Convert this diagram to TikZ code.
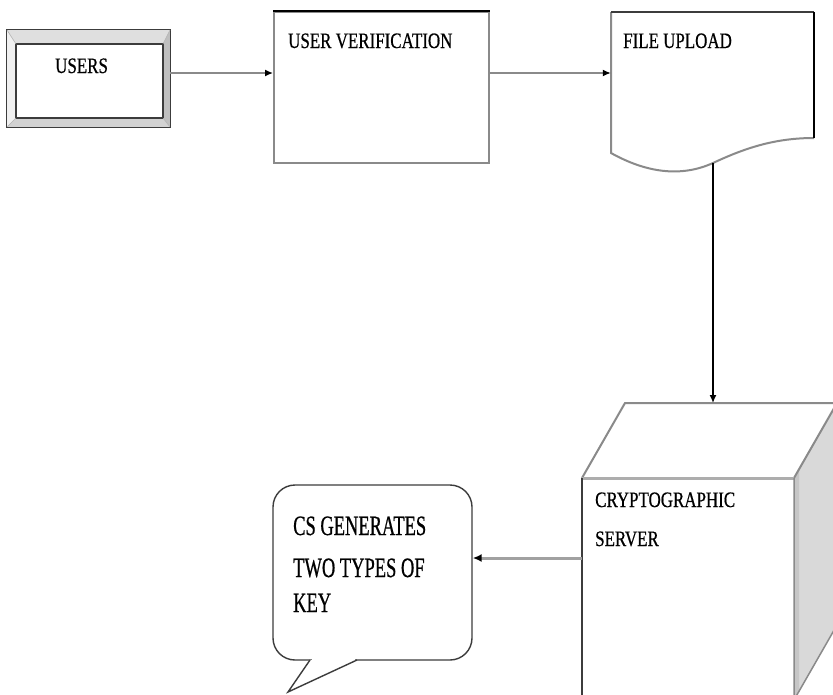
\documentclass[tikz,border=0pt]{standalone}
\usepackage{fontspec}
\usetikzlibrary{arrows.meta}
\newfontfamily\lblfont[FakeStretch=0.77,FakeBold=0.6]{Liberation Serif}
\newfontfamily\notefont[FakeStretch=0.66,FakeBold=0.6]{Liberation Serif}
\definecolor{edgegray}{HTML}{8A8A8A}
\definecolor{darkedge}{HTML}{3C3C3C}
\tikzset{
  lbl/.style={font=\lblfont\fontsize{22}{26}\selectfont, inner sep=0pt, anchor=base west},
  notelbl/.style={font=\notefont\fontsize{28}{34}\selectfont, inner sep=0pt, anchor=base west},
  flow/.style={draw=edgegray, line width=1.4pt, -{Latex[length=8pt,width=7pt,black]}},
  flowdark/.style={draw=black, line width=1.4pt, -{Latex[length=8pt,width=7pt,black]}},
  flowthick/.style={draw=edgegray!80, line width=3pt, -{Latex[length=9pt,width=8pt,black]}},
  plainbox/.style={rectangle, inner sep=0pt}
}
\begin{document}
\begin{tikzpicture}[x=1pt, y=-1pt]
\useasboundingbox (0,0) rectangle (833,694);
\clip (0,0) rectangle (833,694);
\fill[white] (0,0) rectangle (833,694);

% helper rows for the horizontal connectors
\coordinate (toprow) at (0,73);
\coordinate (keyrow) at (0,558);

% ---- USERS: bevelled button ----
\node[plainbox, minimum width=163pt, minimum height=97pt] (users) at (88.5,78.5) {};
\fill[gray!25] (7,30) -- (170,30) -- (163,44) -- (16,44) -- cycle;
\fill[gray!12] (7,30) -- (16,44) -- (16,118) -- (7,127) -- cycle;
\fill[gray!35] (7,127) -- (16,118) -- (163,118) -- (170,127) -- cycle;
\fill[gray!50] (170,30) -- (163,44) -- (163,118) -- (170,127) -- cycle;
\draw[darkedge, line width=1.2pt] (users.south west) rectangle (users.north east);
\draw[darkedge, line width=2pt] (16,44) rectangle (163,118);
\draw[gray!60, line width=0.6pt] (7,30) -- (16,44) (170,30) -- (163,44) (7,127) -- (16,118) (170,127) -- (163,118);
\node[lbl] (userslbl) at (55,73) {USERS};

% ---- USER VERIFICATION ----
\node[plainbox, draw=edgegray, line width=2pt, minimum width=215pt, minimum height=151pt] (uv) at (381.5,87.5) {};
\draw[black, line width=2.2pt] (uv.north west) -- (uv.north east);
\node[lbl] (uvlbl) at (288,48) {USER VERIFICATION};

% ---- FILE UPLOAD (document shape) ----
\node[plainbox, minimum width=203pt, minimum height=141pt] (fu) at (712.5,82.5) {};
\draw[edgegray, line width=2pt] (814,138) .. controls (775,138) and (745,148) .. (713,163)
  .. controls (680,178) and (645,172) .. (611,153) -- (611,12);
\draw[darkedge, line width=2pt] (611,12) -- (814,12);
\draw[black, line width=2pt] (814,12) -- (814,138);
\coordinate (fubottom) at (713,163);
\node[lbl] (fulbl) at (623,48) {FILE UPLOAD};

% ---- CRYPTOGRAPHIC SERVER (cube) ----
\node[plainbox, minimum width=212pt, minimum height=222pt] (cs) at (688,589) {};
\fill[gray!30] (794,478) -- (837,403) -- (837,625) -- (794,700) -- cycle;
\fill[gray!45] (794,478) -- (799,469) -- (799,691) -- (794,700) -- cycle;
\draw[edgegray, line width=2pt] (582,478) -- (625,403) -- (837,403) -- (794,478);
\draw[edgegray!70, line width=3pt] (582,478) -- (794,478);
\draw[darkedge, line width=1.5pt] (582,478) -- (582,700);
\draw[edgegray, line width=1.5pt] (794,478) -- (794,700) (794,700) -- (837,625);
\coordinate (cstop) at (713,403);
\node[lbl] (cslbl1) at (595,507) {CRYPTOGRAPHIC};
\node[lbl] (cslbl2) at (595,546) {SERVER};

% ---- speech bubble ----
\node[plainbox, draw=darkedge, line width=1.4pt, rounded corners=22pt,
      minimum width=199pt, minimum height=175pt] (note) at (372.5,572.5) {};
\fill[white] (310,660) -- (288,692) -- (357,660) -- cycle;
\fill[white] (312,657) rectangle (355,663);
\draw[darkedge, line width=1.4pt] (310,660) -- (288,692) -- (357,660);
\node[notelbl] (notel1) at (293,535) {CS GENERATES};
\node[notelbl] (notel2) at (293,577) {TWO TYPES OF};
\node[notelbl] (notel3) at (293,612) {KEY};

% ---- connectors ----
\draw[flow] (users.east |- toprow) -- (uv.west |- toprow);
\draw[flow] (uv.east |- toprow) -- (fu.west |- toprow);
\draw[flowdark] (fubottom) -- (cstop);
\draw[flowthick] (cs.west |- keyrow) -- (note.east |- keyrow);
\end{tikzpicture}
\end{document}
